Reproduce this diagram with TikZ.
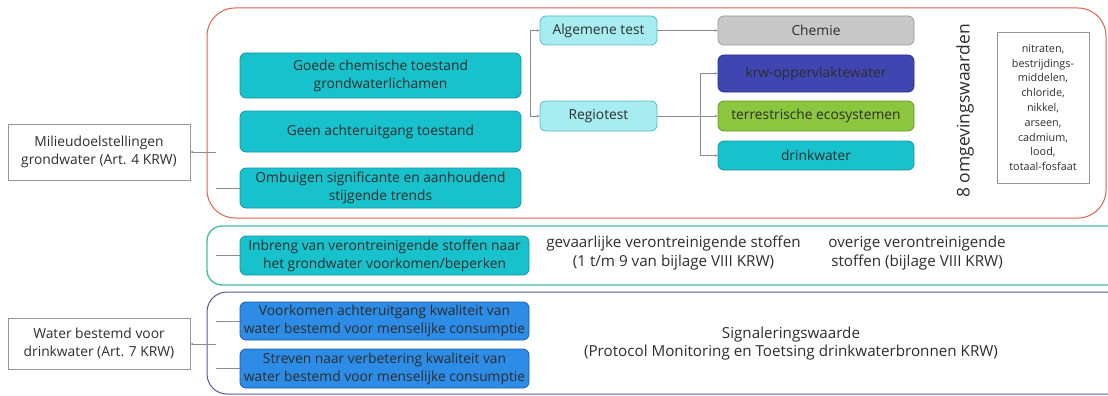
\documentclass[tikz,border=0pt]{standalone}
\usepackage{fontspec}
\setmainfont{Open Sans}
\usetikzlibrary{arrows.meta}

\definecolor{redline}{RGB}{226,96,82}
\definecolor{greenline}{RGB}{72,190,170}
\definecolor{blueline}{RGB}{86,86,156}
\definecolor{tealfill}{RGB}{24,194,204}
\definecolor{tealdraw}{RGB}{22,150,160}
\definecolor{lightfill}{RGB}{166,236,241}
\definecolor{lightdraw}{RGB}{90,186,196}
\definecolor{greyfill}{RGB}{200,200,200}
\definecolor{greydraw}{RGB}{150,150,150}
\definecolor{navyfill}{RGB}{63,70,178}
\definecolor{navydraw}{RGB}{40,46,140}
\definecolor{limefill}{RGB}{140,198,63}
\definecolor{limedraw}{RGB}{100,150,40}
\definecolor{bluefill}{RGB}{44,140,230}
\definecolor{bluedraw}{RGB}{28,92,170}
\definecolor{inktext}{RGB}{45,45,45}
\definecolor{wire}{RGB}{140,140,140}

\begin{document}
\begin{tikzpicture}[x=1pt,y=-1pt,font=\fontsize{13.8}{18}\selectfont,text=inktext]

\tikzstyle{goalbox}=[draw=tealdraw,fill=tealfill,rounded corners=6pt,align=center,inner sep=0pt,line width=0.8pt]
\tikzstyle{testbox}=[draw=lightdraw,fill=lightfill,rounded corners=6pt,align=center,inner sep=0pt,line width=0.8pt]
\tikzstyle{normbox}=[rounded corners=6pt,align=center,inner sep=0pt,line width=0.8pt,minimum width=196pt]
\tikzstyle{artbox}=[draw=greydraw,fill=white,align=center,inner sep=0pt,line width=0.8pt,minimum width=182pt]
\tikzstyle{freetext}=[align=center,font=\fontsize{15.2}{18.5}\selectfont]
\tikzstyle{wireline}=[draw=wire,line width=0.7pt]
\tikzstyle{wirearrow}=[wireline,-{Stealth[length=3pt,width=2.5pt]}]

\clip (0,0) rectangle (1108,396);

% groups
\draw[redline,line width=1pt,rounded corners=28pt] (207,8) rectangle (1106,218);
\draw[greenline,line width=1.4pt,rounded corners=15pt] (207,226) rectangle (1140,285);
\draw[blueline,line width=1pt,rounded corners=20pt] (207,292) rectangle (1140,394);

% articles
\node[artbox,minimum height=56pt] (art4) at (99,152) {Milieudoelstellingen\\grondwater (Art. 4 KRW)};
\node[artbox,minimum height=51pt] (art7) at (99,343.5) {Water bestemd voor\\drinkwater (Art. 7 KRW)};

% goals
\node[goalbox,minimum width=281pt,minimum height=45pt] (chem) at (380.5,75.5) {Goede chemische toestand\\grondwaterlichamen};
\node[goalbox,minimum width=281pt,minimum height=41pt] (geen) at (380.5,131.5) {Geen achteruitgang toestand};
\node[goalbox,minimum width=281pt,minimum height=40pt] (trend) at (380.5,188) {Ombuigen significante en aanhoudend\\stijgende trends};
\node[goalbox,minimum width=289pt,minimum height=39pt] (inbreng) at (384.5,255.5) {Inbreng van verontreinigende stoffen naar\\het grondwater voorkomen/beperken};
\node[goalbox,draw=bluedraw,fill=bluefill,minimum width=289pt,minimum height=38pt] (voork) at (384.5,321) {Voorkomen achteruitgang kwaliteit van\\water bestemd voor menselijke consumptie};
\node[goalbox,draw=bluedraw,fill=bluefill,minimum width=289pt,minimum height=39pt] (streven) at (384.5,368.5) {Streven naar verbetering kwaliteit van\\water bestemd voor menselijke consumptie};

% tests
\node[testbox,minimum width=117pt,minimum height=29pt] (alg) at (598.5,30.5) {Algemene test};
\node[testbox,minimum width=117pt,minimum height=30pt] (reg) at (598.5,116) {Regiotest};

% norms
\node[normbox,draw=greydraw,fill=greyfill,minimum height=29pt] (chemie) at (816,30.5) {Chemie};
\node[normbox,draw=navydraw,fill=navyfill,minimum height=37pt] (krw) at (816,73.5) {krw-oppervlaktewater};
\node[normbox,draw=limedraw,fill=limefill,minimum height=30pt] (terr) at (816,116) {terrestrische ecosystemen};
\node[normbox,draw=tealdraw,fill=tealfill,minimum height=29pt] (drink) at (816,155.5) {drinkwater};

\node[rotate=90,font=\fontsize{17.5}{20}\selectfont] (omg) at (965,111) {8 omgevingswaarden};
\node[draw=greydraw,line width=0.8pt,minimum width=92pt,minimum height=151pt,align=center,
  font=\fontsize{10.8}{14.8}\selectfont] (lijst) at (1043,107.5)
  {nitraten,\\bestrijdings-\\middelen,\\chloride,\\nikkel,\\arseen,\\cadmium,\\lood,\\totaal-fosfaat};

% substances
\node[freetext] (gevaar) at (673.5,253) {gevaarlijke verontreinigende stoffen\\(1 t/m 9 van bijlage VIII KRW)};
\node[freetext] (overig) at (917,253) {overige verontreinigende\\stoffen (bijlage VIII KRW)};
\node[freetext] (signaal) at (791,343.5) {Signaleringswaarde\\(Protocol Monitoring en Toetsing drinkwaterbronnen KRW)};

% connectors
\coordinate (redin) at (216,152);
\coordinate (trendin) at (216,188);
\coordinate (greenin) at (216,255.5);
\coordinate (bluein) at (216,344);
\coordinate (voorkin) at (216,321);
\coordinate (strevenin) at (216,368.5);
\coordinate (testsplit) at (530,73);
\coordinate (regsplit) at (700,116);

\draw[wirearrow] (redin) -- (art4.east |- redin);
\draw[wireline] (trendin) -- (trend.west);
\draw[wireline] (greenin) -- (inbreng.west);
\draw[wirearrow] (bluein) -- (art7.east |- bluein);
\draw[wireline] (voorkin) -- (voork.west);
\draw[wireline] (strevenin) -- (streven.west);

\draw[wirearrow] (testsplit) |- (alg.west);
\draw[wirearrow] (testsplit) |- (reg.west);
\draw[wirearrow] (alg.east) -- (chemie.west);
\draw[wirearrow] (reg.east) -- (terr.west);
\draw[wirearrow] (regsplit) |- (krw.west);
\draw[wirearrow] (regsplit) |- (drink.west);

\end{tikzpicture}
\end{document}
